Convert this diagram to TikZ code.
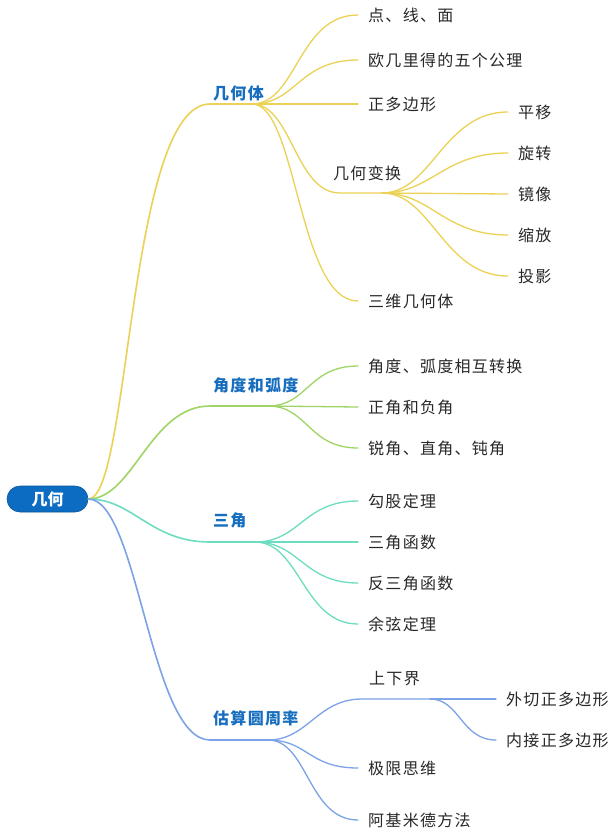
\documentclass[tikz,border=0pt]{standalone}
\usepackage{fontspec}
\setmainfont{Noto Sans CJK SC}
\newfontfamily\cjkleaf[LetterSpace=8]{Noto Sans CJK SC}
\newfontfamily\cjkplain{Noto Sans CJK SC}
\definecolor{cyel}{RGB}{235,210,85}
\definecolor{cgrn}{RGB}{158,213,102}
\definecolor{cteal}{RGB}{108,221,192}
\definecolor{cblu}{RGB}{124,163,230}
\definecolor{croot}{RGB}{11,108,194}
\definecolor{clab}{RGB}{23,110,190}
\definecolor{ctxt}{RGB}{40,40,40}
\tikzset{
  rootbox/.style={fill=croot, draw=croot!80!black, line width=0.6pt, rounded corners=13pt,
    minimum width=81pt, minimum height=26pt, inner sep=0pt, text=white,
    font=\cjkplain\fontsize{16}{18}\selectfont\bfseries},
  blabel/.style={anchor=west, inner xsep=3pt, inner ysep=0pt, text=clab,
    font=\cjkleaf\fontsize{16}{18}\selectfont\bfseries},
  leaf/.style={anchor=west, inner xsep=10pt, inner ysep=0pt, text=ctxt,
    font=\cjkleaf\fontsize{16}{18}\selectfont},
  midleaf/.style={anchor=west, inner xsep=0pt, inner ysep=0pt, text=ctxt,
    font=\cjkleaf\fontsize{16}{18}\selectfont},
  mainlink/.style={line width=1.6pt, line cap=round},
  sublink/.style={line width=1.3pt, line cap=round},
}
\begin{document}
\begin{tikzpicture}[x=1pt,y=-1pt]
\useasboundingbox[fill=white] (0,0) rectangle (612,838);

% root
\node[rootbox] (root) at (47.5,499) {几何};

% branch anchor points
\coordinate (s1) at (210,104); \coordinate (h1) at (252,104);
\coordinate (s2) at (210,406); \coordinate (h2) at (268,406);
\coordinate (s3) at (210,542); \coordinate (h3) at (255,542);
\coordinate (s4) at (210,740); \coordinate (h4) at (268,740);

\node[blabel] (l1) at (210,93) {几何体};
\node[blabel] (l2) at (210,385) {角度和弧度};
\node[blabel] (l3) at (210,520) {三角};
\node[blabel] (l4) at (210,718) {估算圆周率};

% branch 1 leaves
\node[leaf] (a1) at (358,15) {点、线、面};
\node[leaf] (a2) at (358,60) {欧几里得的五个公理};
\node[leaf] (a3) at (358,104) {正多边形};
\node[midleaf] (a4) at (333,173) {几何变换};
\coordinate (a4s) at (340,193); \coordinate (a4h) at (382,193);
\node[leaf] (a5) at (358,301) {三维几何体};
\node[leaf] (t1) at (508,112) {平移};
\node[leaf] (t2) at (508,153) {旋转};
\node[leaf] (t3) at (508,194) {镜像};
\node[leaf] (t4) at (508,235) {缩放};
\node[leaf] (t5) at (508,276) {投影};

% branch 2 leaves
\node[leaf] (b1) at (358,366) {角度、弧度相互转换};
\node[leaf] (b2) at (358,407) {正角和负角};
\node[leaf] (b3) at (358,448) {锐角、直角、钝角};

% branch 3 leaves
\node[leaf] (c1) at (358,501) {勾股定理};
\node[leaf] (c2) at (358,542) {三角函数};
\node[leaf] (c3) at (358,583) {反三角函数};
\node[leaf] (c4) at (358,624) {余弦定理};

% branch 4 leaves
\node[midleaf] (d1) at (369,679) {上下界};
\coordinate (d1s) at (362,699); \coordinate (d1h) at (430,699);
\node[leaf] (e1) at (496,699) {外切正多边形};
\node[leaf] (e2) at (496,740) {内接正多边形};
\node[leaf] (d2) at (358,768) {极限思维};
\node[leaf] (d3) at (358,820) {阿基米德方法};

% main connectors
\draw[mainlink, cyel] (root.east) .. controls +(42,0) and +(-82,0) .. (s1) -- (h1);
\draw[mainlink, cgrn] (root.east) .. controls +(45,0) and +(-60,0) .. (s2) -- (h2);
\draw[mainlink, cteal] (root.east) .. controls +(45,0) and +(-60,0) .. (s3) -- (h3);
\draw[mainlink, cblu] (root.east) .. controls +(50,0) and +(-60,0) .. (s4) -- (h4);

% branch 1
\begin{scope}[sublink, cyel]
\draw (h1) .. controls +(45,0) and +(-60,0) .. (a1.west);
\draw (h1) .. controls +(45,0) and +(-60,0) .. (a2.west);
\draw (h1) -- (a3.west);
\draw (h1) .. controls +(40,0) and +(-45,0) .. (a4s) -- (a4h);
\draw (h1) .. controls +(45,0) and +(-60,0) .. (a5.west);
\draw (a4h) .. controls +(50,0) and +(-65,0) .. (t1.west);
\draw (a4h) .. controls +(50,0) and +(-65,0) .. (t2.west);
\draw (a4h) -- (t3.west);
\draw (a4h) .. controls +(50,0) and +(-65,0) .. (t4.west);
\draw (a4h) .. controls +(50,0) and +(-65,0) .. (t5.west);
\end{scope}

% branch 2
\begin{scope}[sublink, cgrn]
\draw (h2) .. controls +(40,0) and +(-50,0) .. (b1.west);
\draw (h2) -- (b2.west);
\draw (h2) .. controls +(40,0) and +(-50,0) .. (b3.west);
\end{scope}

% branch 3
\begin{scope}[sublink, cteal]
\draw (h3) .. controls +(45,0) and +(-55,0) .. (c1.west);
\draw (h3) -- (c2.west);
\draw (h3) .. controls +(45,0) and +(-55,0) .. (c3.west);
\draw (h3) .. controls +(45,0) and +(-55,0) .. (c4.west);
\end{scope}

% branch 4
\begin{scope}[sublink, cblu]
\draw (h4) .. controls +(40,0) and +(-45,0) .. (d1s) -- (d1h);
\draw (d1h) -- (e1.west);
\draw (d1h) .. controls +(30,0) and +(-35,0) .. (e2.west);
\draw (h4) .. controls +(40,0) and +(-50,0) .. (d2.west);
\draw (h4) .. controls +(40,0) and +(-50,0) .. (d3.west);
\end{scope}
\end{tikzpicture}
\end{document}
